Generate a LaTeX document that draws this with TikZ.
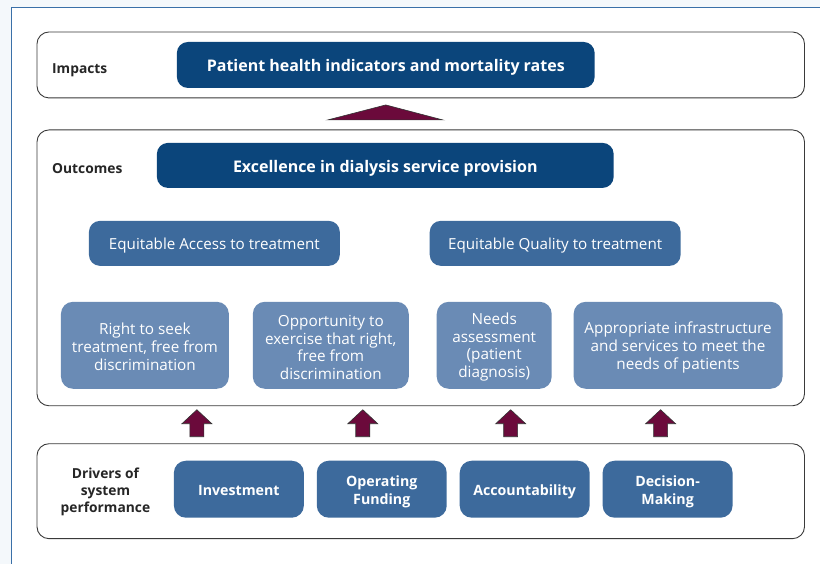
\documentclass[tikz,border=0pt]{standalone}
\usepackage{fontspec}
\setmainfont{Open Sans}
\newcommand\firstlinestrut{\rule{0pt}{1.1em}}
\newcommand\leafstrut{\rule{0pt}{1.0em}}
\begin{document}
\definecolor{pagebg}{HTML}{F4F8FB}
\definecolor{framebl}{HTML}{3A70A8}
\definecolor{darkbl}{HTML}{0B457B}
\definecolor{midbl}{HTML}{3D6A9C}
\definecolor{lightbl}{HTML}{6A8BB5}
\definecolor{maroon}{HTML}{6B0A3B}
\definecolor{edge}{HTML}{3A3A3A}
\begin{tikzpicture}[x=1pt,y=-1pt,
  tier/.style={draw=edge,line width=0.9pt,rounded corners=12pt,fill=white},
  tierlabel/.style={font=\bfseries\fontsize{13.8}{17}\selectfont,text=black!85,align=center,inner sep=0pt},
  headbox/.style={fill=darkbl,rounded corners=11pt,text=white,font=\bfseries\fontsize{16}{19}\selectfont,inner sep=0pt,text height=14pt,text depth=0pt},
  midbox/.style={fill=midbl,rounded corners=11pt,text=white,font=\fontsize{15.2}{18}\selectfont,inner sep=0pt,text height=11.6pt,text depth=0pt},
  leafbox/.style={fill=lightbl,rounded corners=12pt,text=white,font=\fontsize{15.3}{18}\selectfont,align=center,inner sep=0pt},
  driverbox/.style={fill=midbl,rounded corners=12pt,text=white,font=\bfseries\fontsize{14.2}{18.3}\selectfont,align=center,inner sep=0pt,minimum width=130pt,minimum height=57pt},
  driverone/.style={driverbox,text height=13pt,text depth=0pt},
  blockarrow/.style={fill=maroon,draw=black!80,line width=0.6pt,line join=miter}
]
% page background and frame
\fill[pagebg] (0,0) rectangle (820,564);
\fill[white] (12,8) rectangle (820,564);
\draw[framebl,line width=1pt] (12,564) -- (12,8) -- (820,8);

% tiers
\draw[tier] (37,32) rectangle (805,98);
\draw[tier] (37,130) rectangle (805,406);
\draw[tier] (37,444) rectangle (805,539);

\node[tierlabel,anchor=west] (limp) at (52,70) {Impacts};
\node[tierlabel,anchor=west] (lout) at (52,168.5) {Outcomes};
\node[tierlabel] (ldrv) at (105.5,492) {Drivers of\\system\\performance};

% impacts
\node[headbox,minimum width=418pt,minimum height=46pt] (impact) at (386,65) {Patient health indicators and mortality rates};

% triangle between impacts and outcomes
\coordinate (triL) at (328,120);
\coordinate (triR) at (443,120);
\coordinate (triT) at (386,105);
\draw[blockarrow] (triL) -- (triT) -- (triR) -- cycle;

% outcomes
\node[headbox,minimum width=457pt,minimum height=45pt] (excel) at (385.5,165.5) {Excellence in dialysis service provision};
\node[midbox,minimum width=251pt,minimum height=45pt] (access) at (214.5,243.5) {Equitable Access to treatment};
\node[midbox,minimum width=251pt,minimum height=45pt] (quality) at (555.5,243.5) {Equitable Quality to treatment};

\node[leafbox,minimum width=168pt,minimum height=87pt] (right) at (145,345.5) {\leafstrut Right to seek\\treatment, free from\\discrimination};
\node[leafbox,minimum width=156pt,minimum height=87pt,font=\fontsize{15.3}{17.7}\selectfont] (oppo) at (331,345.5) {\leafstrut Opportunity to\\exercise that right,\\free from\\discrimination};
\node[leafbox,minimum width=115pt,minimum height=87pt,font=\fontsize{15.3}{17.7}\selectfont] (needs) at (494.5,345.5) {\leafstrut Needs\\assessment\\(patient\\diagnosis)};
\node[leafbox,minimum width=209pt,minimum height=87pt] (infra) at (678.5,345.5) {\leafstrut Appropriate infrastructure\\and services to meet the\\needs of patients};

% drivers
\node[driverone] (invest) at (239,489.5) {Investment};
\node[driverbox] (opfund) at (382,489.5) {\firstlinestrut Operating\\Funding};
\node[driverone] (account) at (525,489.5) {Accountability};
\node[driverbox] (decide) at (668,489.5) {\firstlinestrut Decision-\\Making};

% block arrows from drivers up to outcomes
\foreach \cx in {197,363,511,661}{
  \draw[blockarrow] (\cx-7,437) -- (\cx-7,424) -- (\cx-15,424) -- (\cx,410)
     -- (\cx+15,424) -- (\cx+7,424) -- (\cx+7,437) -- cycle;
}
\end{tikzpicture}
\end{document}
